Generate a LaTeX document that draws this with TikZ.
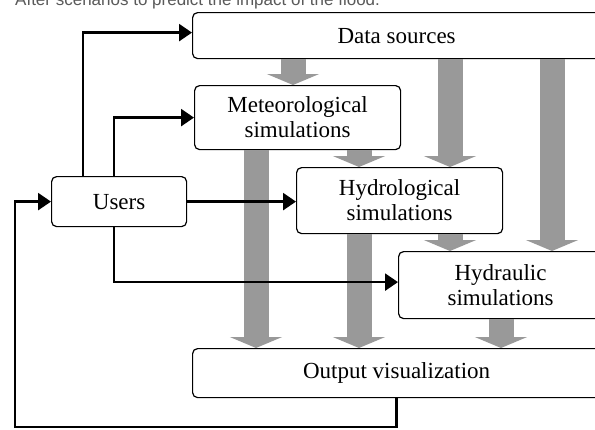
\documentclass[tikz,border=0pt]{standalone}
\usepackage{fontspec}
\setmainfont{Liberation Serif}
\setsansfont{Liberation Sans}
\usetikzlibrary{arrows.meta}
\definecolor{garr}{RGB}{153,153,153}
\definecolor{captxt}{RGB}{90,90,90}
\begin{document}
\begin{tikzpicture}[x=1pt,y=-1pt,
  box/.style={draw, line width=1.2pt, rounded corners=5pt, align=center,
    font=\fontsize{23}{25}\selectfont, inner sep=0pt, fill=white, anchor=north west},
  flow/.style={line width=2.6pt, -{Triangle[length=13pt,width=17pt]}},
  garrow/.style={line width=25pt, draw=garr, -{Triangle[length=11pt,width=52pt]}}]
\clip (0,0) rectangle (595,429);
\fill[white] (0,0) rectangle (595,429);
% caption line, cut off at the top edge as in the reference
\node[anchor=base west, font=\sffamily\fontsize{17}{17}\selectfont, text=captxt, inner sep=0pt]
  (cap) at (15,5) {After scenarios to predict the impact of the flood.};
% boxes
\node[box, minimum width=408pt, minimum height=46pt] (ds) at (192,12) {Data sources};
\node[box, minimum width=206pt, minimum height=64pt] (met) at (194,85) {Meteorological\\simulations};
\node[box, minimum width=135pt, minimum height=50pt] (users) at (51,176) {Users};
\node[box, minimum width=206pt, minimum height=66pt] (hyd) at (296,167) {Hydrological\\simulations};
\node[box, minimum width=204pt, minimum height=67pt] (hdr) at (398,251) {Hydraulic\\simulations};
\node[box, minimum width=408pt, minimum height=49pt] (out) at (192,348) {Output visualization};
% gray data-flow arrows
\draw[garrow] (293,0 |- ds.south) -- (293,0 |- met.north);
\draw[garrow] (450,0 |- ds.south) -- (450,0 |- hyd.north);
\draw[garrow] (552,0 |- ds.south) -- (552,0 |- hdr.north);
\draw[garrow] (256,0 |- met.south) -- (256,0 |- out.north);
\draw[garrow] (359,0 |- met.south) -- (359,0 |- hyd.north);
\draw[garrow] (359,0 |- hyd.south) -- (359,0 |- out.north);
\draw[garrow] (450,0 |- hyd.south) -- (450,0 |- hdr.north);
\draw[garrow] (501,0 |- hdr.south) -- (501,0 |- out.north);
% black user connectors
\coordinate (uA) at (83,0 |- users.north);
\coordinate (uB) at (114,0 |- users.north);
\coordinate (uC) at (114,0 |- users.south);
\coordinate (dsIn) at ([yshift=3pt]ds.west);
\draw[flow] (uA) -- (uA |- dsIn) -- (dsIn);
\draw[flow] (uB) -- (uB |- met.west) -- (met.west);
\draw[flow] (users.east) -- (users.east -| hyd.west);
\coordinate (hdrIn) at ([yshift=3pt]hdr.west);
\draw[flow] (uC) -- (uC |- hdrIn) -- (hdrIn);
\coordinate (fb1) at (out.south |- 0,427);
\coordinate (fb2) at (15,427);
\draw[flow] (out.south) -- (fb1) -- (fb2) -- (fb2 |- users.west) -- (users.west);
\end{tikzpicture}
\end{document}
